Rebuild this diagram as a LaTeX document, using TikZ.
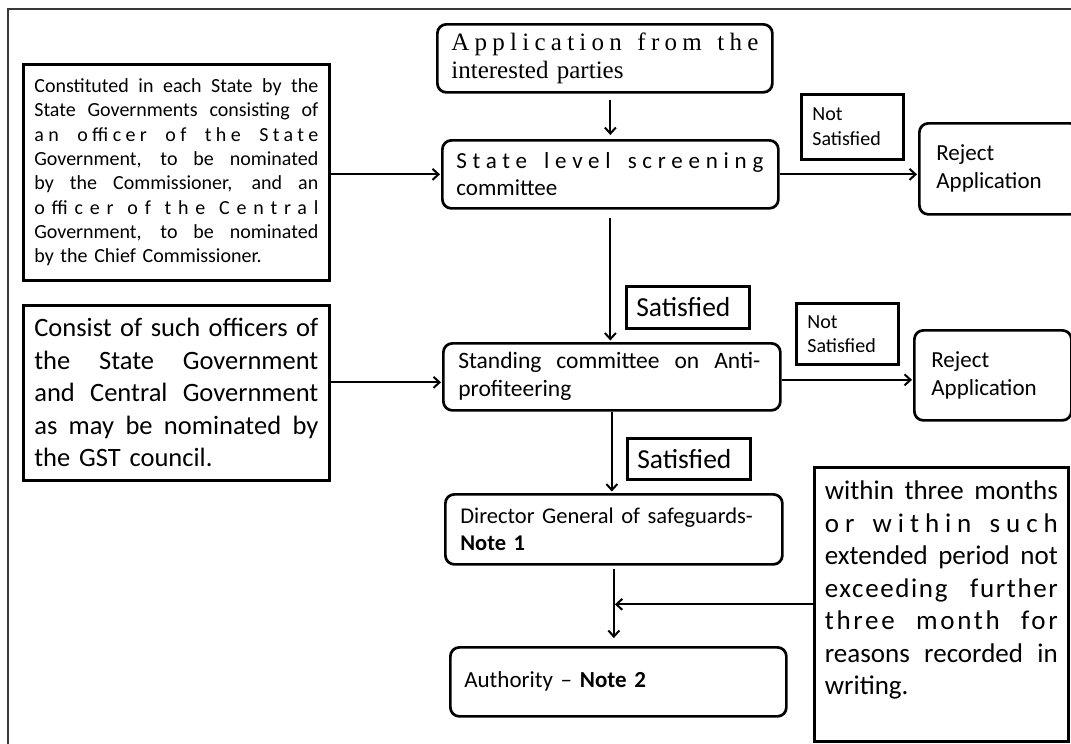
\documentclass[tikz,border=0pt]{standalone}
\usepackage{fontspec}
\setmainfont{Carlito}
\newfontfamily\serifA{Liberation Serif}
\usetikzlibrary{arrows.meta}
\newcommand\jl[3][0]{\leavevmode\hbox to #2{\addfontfeature{LetterSpace=#1}\spaceskip=0.22em plus 1fil\relax #3}}
\begin{document}
\begin{tikzpicture}[x=1pt,y=-1pt,
  sq/.style={draw=black, line width=2.7pt, inner ysep=0pt, align=left, anchor=north west},
  rnd/.style={sq, rounded corners=9pt},
  arr/.style={line width=2.2pt, -{Straight Barb[length=6pt,width=11pt,line width=2pt]}},
  frame/.style={draw=black!78, line width=2pt}]
\useasboundingbox (0,0) rectangle (1071,744);
\clip (0,0) rectangle (1071,744);
\fill[white] (0,0) rectangle (1071,744);
% outer frame (top and left edges visible)
\draw[frame] (1075,9) -- (8,9) -- (8,750);

% left description boxes
\node[sq, minimum width=306pt, minimum height=216pt, inner xsep=11pt, text width=284pt,
      font=\fontsize{20}{24.3}\selectfont] (left1) at (22,63)
 {\jl{284pt}{Constituted in each State by the}\\
  \jl{284pt}{State Governments consisting of}\\
  \jl[22]{284pt}{an officer of the State}\\
  \jl{284pt}{Government, to be nominated}\\
  \jl{284pt}{by the Commissioner, and an}\\
  \jl[34]{284pt}{officer of the Central}\\
  \jl{284pt}{Government, to be nominated}\\
  by the Chief Commissioner.};

\node[sq, minimum width=306pt, minimum height=175pt, inner xsep=11pt, text width=284pt,
      font=\fontsize{26.5}{32.5}\selectfont] (left2) at (22,304)
 {\jl{284pt}{Consist of such officers of}\\
  \jl{284pt}{the State Government}\\
  \jl{284pt}{and Central Government}\\
  \jl{284pt}{as may be nominated by}\\
  the GST council.};

% main flow
\node[rnd, minimum width=335pt, minimum height=68pt, inner xsep=14pt, text width=307pt,
      font=\serifA\fontsize{25}{28}\selectfont] (app) at (436,23)
 {\jl[21]{307pt}{Application from the}\\ interested parties};

\node[rnd, minimum width=336pt, minimum height=68pt, inner xsep=14pt, text width=308pt,
      font=\fontsize{23}{27}\selectfont] (state) at (441,139)
 {\jl[25]{307pt}{State level screening}\\ committee};

\node[rnd, minimum width=337pt, minimum height=67pt, inner xsep=15pt, text width=307pt,
      font=\fontsize{23.5}{28}\selectfont] (standing) at (442,342)
 {\jl{302pt}{Standing committee on Anti-}\\ profiteering};

\node[rnd, minimum width=337pt, minimum height=70pt, inner xsep=15pt, text width=307pt,
      font=\fontsize{22.5}{26.5}\selectfont] (director) at (444,493)
 {Director General of safeguards-\\ \textbf{Note 1}};

\node[rnd, minimum width=336pt, minimum height=69pt, inner xsep=14pt, text width=308pt,
      font=\fontsize{23}{28}\selectfont] (authority) at (449,646)
 {Authority -- \textbf{Note 2}};

% condition labels
\node[sq, minimum width=102pt, minimum height=65pt, inner xsep=11pt, text width=80pt,
      font=\fontsize{20}{25}\selectfont] (ns1) at (800,93) {Not\\ Satisfied};
\node[sq, minimum width=102pt, minimum height=61pt, inner xsep=11pt, text width=80pt,
      font=\fontsize{20}{24}\selectfont] (ns2) at (795,302) {Not\\ Satisfied};
\node[sq, minimum width=123pt, minimum height=42pt, inner xsep=10pt, text width=103pt,
      font=\fontsize{27.5}{30}\selectfont] (sat1) at (625,285) {Satisfied};
\node[sq, minimum width=123pt, minimum height=41pt, inner xsep=10pt, text width=103pt,
      font=\fontsize{27.5}{30}\selectfont] (sat2) at (626,437) {Satisfied};

% reject boxes
\node[rnd, minimum width=160pt, minimum height=91pt, inner xsep=17pt, text width=126pt,
      font=\fontsize{23}{28}\selectfont] (rej1) at (918,122) {Reject\\ Application};
\node[rnd, minimum width=157pt, minimum height=90pt, inner xsep=17pt, text width=123pt,
      font=\fontsize{23}{28}\selectfont] (rej2) at (913,329) {Reject\\ Application};

% time-limit note
\node[sq, minimum width=254pt, minimum height=274pt, inner xsep=10.5pt, text width=233pt,
      font=\fontsize{27}{32.5}\selectfont] (note) at (813,466)
 {\jl{233pt}{within three months}\\
  \jl[22]{233pt}{or within such}\\
  \jl{233pt}{extended period not}\\
  \jl[6]{233pt}{exceeding further}\\
  \jl[10]{233pt}{three month for}\\
  \jl{233pt}{reasons recorded in}\\
  writing.\\
  \mbox{}};

% connectors
\draw[arr, shorten >=1pt] (left1.east |- state.west) -- (state.west);
\draw[arr, shorten >=1pt] ([yshift=-5.5pt]standing.west -| left2.east) -- ([yshift=-5.5pt]standing.west);
\draw[arr, shorten <=6pt, shorten >=4pt] (app.south -| state.north) -- (state.north);
\draw[arr, shorten <=8pt, shorten >=1.5pt] (state.south) -- (state.south |- standing.north);
\draw[arr, shorten >=1.5pt] (standing.south) -- (standing.south |- director.north);
\draw[arr, shorten <=3pt, shorten >=8pt] (director.south) -- (director.south |- authority.north);
\coordinate (j) at (director.south |- note.west);
\draw[arr, shorten >=1pt] (note.west) -- (j);
\draw[arr, shorten >=1pt] (state.east) -- (state.east -| rej1.west);
\draw[arr, shorten >=1pt] ([yshift=-3pt]standing.east) -- ([yshift=-3pt]standing.east -| rej2.west);
\end{tikzpicture}
\end{document}
